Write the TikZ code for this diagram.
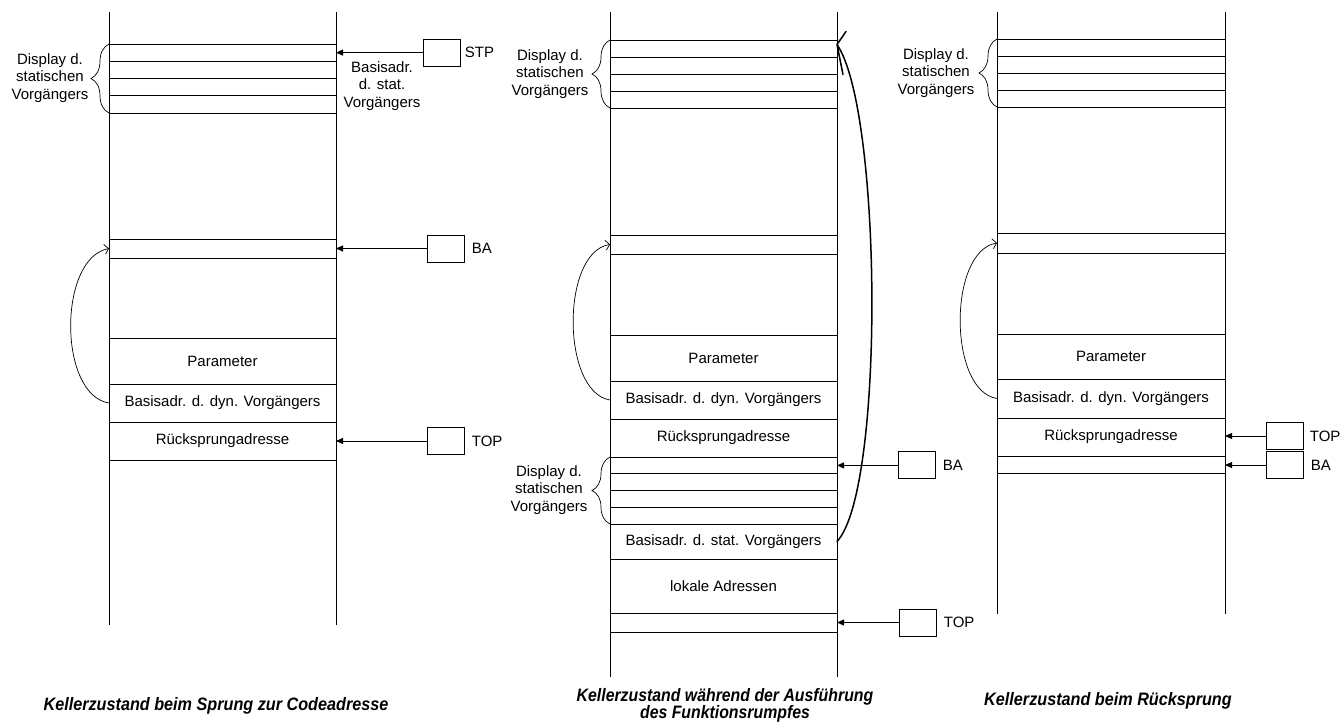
\documentclass[tikz,border=0pt]{standalone}
\usepackage{fontspec}
\setmainfont{Liberation Sans}
\usetikzlibrary{arrows.meta,decorations.pathreplacing}
\begin{document}
\begin{tikzpicture}[x=1pt,y=-1pt,
  line width=0.9pt,
  every node/.style={font=\fontsize{15}{17.5}\selectfont},
  cell/.style={draw, anchor=north west, inner sep=0pt, outer sep=0pt, minimum width=227pt},
  cellw/.style={cell, minimum width=228pt},
  reg/.style={draw, minimum width=37pt, minimum height=27pt, inner sep=0pt},
  lab/.style={anchor=west, inner sep=0pt},
  ptr/.style={-{Triangle[length=7pt,width=6pt]}},
  curv/.style={line width=0.7pt, -{Straight Barb[length=4pt,width=10pt]}},
  big/.style={line width=1.5pt, line cap=round, line join=round},
  brc/.style={line width=0.7pt, decorate, decoration={brace, amplitude=18pt, aspect=0.5}},
  disp/.style={align=center, inner sep=0pt},
  title/.style={font=\fontsize{18}{18}\selectfont\bfseries\itshape, anchor=base, inner sep=0pt}
]
\useasboundingbox (0,0) rectangle (1340,721);

% ---------------- Stack 1 ----------------
\coordinate (s1tl) at (109,12);
\coordinate (s1bl) at (109,625);
\coordinate (s1tr) at (336,12);
\coordinate (s1br) at (336,625);
\draw (s1tl) -- (s1bl);
\draw (s1tr) -- (s1br);
\node[cell, minimum height=17.25pt] (s1d1) at (109,44) {};
\node[cell, minimum height=17.25pt] (s1d2) at (s1d1.south west) {};
\node[cell, minimum height=17.25pt] (s1d3) at (s1d2.south west) {};
\node[cell, minimum height=17.25pt] (s1d4) at (s1d3.south west) {};
\node[cell, minimum height=19pt] (s1ba) at (109,239) {};
\node[cell, minimum height=46pt] (s1par) at (109,338) {Parameter};
\node[cell, minimum height=38pt] (s1dyn) at (s1par.south west) {Basisadr. d. dyn. Vorgängers};
\node[cell, minimum height=38pt] (s1rsa) at (s1dyn.south west) {Rücksprungadresse};

\draw[brc] (s1d4.south west) -- (s1d1.north west);
\node[disp] (s1disp) at (50,78) {Display d.\\statischen\\Vorgängers};

\node[reg] (stp) at (441.5,52.6) {};
\node[lab] (stpl) at ([xshift=4pt]stp.east) {STP};
\draw[ptr] (stp.west) -- (stp.west -| s1d1.east);
\node[disp] (stpd) at (382,86) {Basisadr.\\d. stat.\\Vorgängers};

\node[reg] (ba1) at (445.5,248.5) {};
\node[lab] (ba1l) at ([xshift=7pt]ba1.east) {BA};
\draw[ptr] (ba1.west) -- (ba1.west -| s1ba.east);

\node[reg] (top1) at (445.5,441) {};
\node[lab] (top1l) at ([xshift=7pt]top1.east) {TOP};
\draw[ptr] (top1.west) -- (top1.west -| s1rsa.east);

\draw[curv] (s1dyn.west) .. controls (58,395) and (58,258) .. (s1ba.west);

% ---------------- Stack 2 ----------------
\coordinate (s2tl) at (610,12);
\coordinate (s2bl) at (610,677);
\coordinate (s2tr) at (837,12);
\coordinate (s2br) at (837,677);
\draw (s2tl) -- (s2bl);
\draw (s2tr) -- (s2br);
\node[cell, minimum height=17pt] (s2d1) at (610,40) {};
\node[cell, minimum height=17pt] (s2d2) at (s2d1.south west) {};
\node[cell, minimum height=17pt] (s2d3) at (s2d2.south west) {};
\node[cell, minimum height=17pt] (s2d4) at (s2d3.south west) {};
\node[cell, minimum height=19pt] (s2ba) at (610,235) {};
\node[cell, minimum height=46pt] (s2par) at (610,335) {Parameter};
\node[cell, minimum height=38pt] (s2dyn) at (s2par.south west) {Basisadr. d. dyn. Vorgängers};
\node[cell, minimum height=38pt] (s2rsa) at (s2dyn.south west) {Rücksprungadresse};
\node[cell, minimum height=16.75pt] (s2e1) at (s2rsa.south west) {};
\node[cell, minimum height=16.75pt] (s2e2) at (s2e1.south west) {};
\node[cell, minimum height=16.75pt] (s2e3) at (s2e2.south west) {};
\node[cell, minimum height=16.75pt] (s2e4) at (s2e3.south west) {};
\node[cell, minimum height=35pt] (s2stat) at (s2e4.south west) {Basisadr. d. stat. Vorgängers};
\node[cell, minimum height=54pt] (s2lok) at (s2stat.south west) {lokale Adressen};
\node[cell, minimum height=19pt] (s2top) at (s2lok.south west) {};

\draw[brc] (s2d4.south west) -- (s2d1.north west);
\node[disp] (s2disp) at (550,74) {Display d.\\statischen\\Vorgängers};
\draw[brc] (s2e4.south west) -- (s2e1.north west);
\node[disp] (s2disp2) at (549,490) {Display d.\\statischen\\Vorgängers};

\node[reg] (ba2) at (916.5,465.4) {};
\node[lab] (ba2l) at ([xshift=7pt]ba2.east) {BA};
\draw[ptr] (ba2.west) -- (ba2.west -| s2e1.east);

\node[reg] (top2) at (917.5,622.5) {};
\node[lab] (top2l) at ([xshift=7pt]top2.east) {TOP};
\draw[ptr] (top2.west) -- (top2.west -| s2top.east);

\draw[curv] (s2dyn.west) .. controls (561,392) and (561,252) .. (s2ba.west);
\coordinate (s2tip) at ([yshift=4pt]s2d1.east);
\draw[big] (s2stat.east) .. controls (885,490) and (882,110) .. (s2tip)
  -- ++(9,-13) (s2tip) -- ++(6,30);

% ---------------- Stack 3 ----------------
\coordinate (s3tl) at (997,12);
\coordinate (s3bl) at (997,614);
\coordinate (s3tr) at (1225,12);
\coordinate (s3br) at (1225,614);
\draw (s3tl) -- (s3bl);
\draw (s3tr) -- (s3br);
\node[cellw, minimum height=17pt] (s3d1) at (997,39) {};
\node[cellw, minimum height=17pt] (s3d2) at (s3d1.south west) {};
\node[cellw, minimum height=17pt] (s3d3) at (s3d2.south west) {};
\node[cellw, minimum height=17pt] (s3d4) at (s3d3.south west) {};
\node[cellw, minimum height=20pt] (s3ba) at (997,233) {};
\node[cellw, minimum height=45pt] (s3par) at (997,334) {Parameter};
\node[cellw, minimum height=39pt] (s3dyn) at (s3par.south west) {Basisadr. d. dyn. Vorgängers};
\node[cellw, minimum height=38pt] (s3rsa) at (s3dyn.south west) {Rücksprungadresse};
\node[cellw, minimum height=17pt] (s3b) at (s3rsa.south west) {};

\draw[brc] (s3d4.south west) -- (s3d1.north west);
\node[disp] (s3disp) at (936,73) {Display d.\\statischen\\Vorgängers};

\node[reg] (top3) at (1284.5,436) {};
\node[lab] (top3l) at ([xshift=6pt]top3.east) {TOP};
\draw[ptr] (top3.west) -- (top3.west -| s3rsa.east);

\node[reg] (ba3) at (1284.5,465) {};
\node[lab] (ba3l) at ([xshift=7pt]ba3.east) {BA};
\draw[ptr] (ba3.west) -- (ba3.west -| s3b.east);

\draw[curv] (s3dyn.west) .. controls (948,391) and (948,251) .. (s3ba.west);

% ---------------- Titles ----------------
\node[title] (t1) at (216,710) {\scalebox{0.9}[1]{Kellerzustand beim Sprung zur Codeadresse}};
\node[title] (t2a) at (725,701) {\scalebox{0.88}[1]{Kellerzustand während der Ausführung}};
\node[title] (t2b) at (725,718) {\scalebox{0.88}[1]{des Funktionsrumpfes}};
\node[title] (t3) at (1108,705) {\scalebox{0.9}[1]{Kellerzustand beim Rücksprung}};
\end{tikzpicture}
\end{document}
